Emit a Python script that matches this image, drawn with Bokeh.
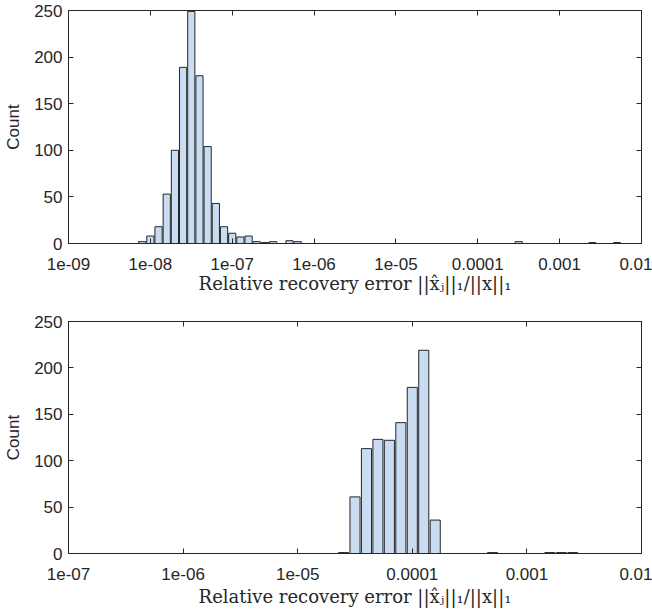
from bokeh.plotting import figure
from bokeh.models import Range1d, FixedTicker, LogAxis, LinearAxis, ColumnDataSource
from bokeh.layouts import column
from bokeh.embed import file_html
from bokeh.resources import INLINE

# ---------------- data ----------------
# top histogram: bins centred on log10 exponents from -8.1 to -2.1, step 0.1
top_start_exp = -8.1
top_counts = [2, 8, 18, 53, 100, 189, 249, 180, 104, 43,
              18, 11, 7, 8, 2, 1, 2, 0, 3, 2,
              0, 0, 0, 0, 0, 0, 0, 0, 0, 0,
              0, 0, 0, 0, 0, 0, 0, 0, 0, 0,
              0, 0, 0, 0, 0, 0, 2, 0, 0, 0,
              0, 0, 0, 0, 0, 1, 0, 0, 1, 0,
              0]
# bottom histogram: bins centred on log10 exponents from -5.0 to -2.1, step 0.1
bot_start_exp = -5.0
bot_counts = [0, 0, 0, 0, 1, 61, 113, 123, 122, 141,
              179, 219, 36, 0, 0, 0, 0, 1, 0, 0,
              0, 0, 1, 1, 1, 0, 0, 0, 0, 0]

top_xticks = [1e-9, 1e-8, 1e-7, 1e-6, 1e-5, 1e-4, 1e-3, 1e-2]
top_xlabels = ["1e-09", "1e-08", "1e-07", "1e-06", "1e-05", "0.0001", "0.001", "0.01"]
bot_xticks = [1e-7, 1e-6, 1e-5, 1e-4, 1e-3, 1e-2]
bot_xlabels = ["1e-07", "1e-06", "1e-05", "0.0001", "0.001", "0.01"]
yticks = [0, 50, 100, 150, 200, 250]

xlabel_text = "Relative recovery error ||x\u0302\u2C7C||\u2081/||x||\u2081"
ylabel_text = "Count"

# ---------------- style ----------------
AX = "#262626"
FILL = "#c9dcf2"
TICK_FONT = "Liberation Sans"
TICK_SIZE = "17px"
LABEL_FONT = "DejaVu Serif"
LABEL_SIZE = "18px"
BIN_STEP = 0.1
HALF_W = 0.044


def style_axis(ax):
    ax.axis_line_color = AX
    ax.major_tick_line_color = AX
    ax.major_tick_in = 5
    ax.major_tick_out = 0
    ax.minor_tick_in = 0
    ax.minor_tick_out = 0


def make_hist(start_exp, counts, xr, xticks, xlabels, height, bottom_border, xlabel_standoff):
    centers = [start_exp + BIN_STEP * i for i in range(len(counts))]
    src = ColumnDataSource(dict(
        left=[10 ** (c - HALF_W) for c in centers],
        right=[10 ** (c + HALF_W) for c in centers],
        top=counts,
        bottom=[0] * len(counts),
    ))
    p = figure(width=652, height=height, x_axis_type="log",
               x_range=Range1d(*xr), y_range=Range1d(0, 250),
               output_backend="svg", toolbar_location=None,
               min_border_left=68, min_border_right=11,
               min_border_top=10, min_border_bottom=bottom_border)
    p.xgrid.visible = False
    p.ygrid.visible = False
    p.outline_line_color = AX
    p.background_fill_color = "white"
    p.border_fill_color = "white"

    p.quad(left="left", right="right", top="top", bottom="bottom", source=src,
           fill_color=FILL, line_color=AX, line_width=1)

    xa = p.xaxis[0]
    xa.ticker = FixedTicker(ticks=xticks, minor_ticks=[])
    xa.major_label_overrides = {t: l for t, l in zip(xticks, xlabels)}
    xa.axis_label = xlabel_text
    ya = p.yaxis[0]
    ya.ticker = FixedTicker(ticks=yticks, minor_ticks=[])
    ya.axis_label = ylabel_text

    for ax in (xa, ya):
        style_axis(ax)
        ax.major_label_text_font = TICK_FONT
        ax.major_label_text_font_size = TICK_SIZE
        ax.major_label_text_color = AX
        ax.axis_label_text_color = AX
        ax.axis_label_text_font_style = "normal"
    xa.major_label_standoff = 14
    xa.axis_label_text_font = LABEL_FONT
    xa.axis_label_text_font_size = LABEL_SIZE
    xa.axis_label_standoff = xlabel_standoff
    ya.axis_label_text_font = TICK_FONT
    ya.axis_label_text_font_size = "17px"
    ya.axis_label_standoff = 8
    ya.major_label_standoff = 6

    top_ax = LogAxis(ticker=FixedTicker(ticks=xticks, minor_ticks=[]))
    right_ax = LinearAxis(ticker=FixedTicker(ticks=yticks, minor_ticks=[]))
    for ax in (top_ax, right_ax):
        style_axis(ax)
        ax.major_label_text_font_size = "1px"
        ax.major_label_text_color = None
        ax.major_label_standoff = 0
    p.add_layout(top_ax, "above")
    p.add_layout(right_ax, "right")
    return p


p1 = make_hist(top_start_exp, top_counts, (1e-9, 1e-2), top_xticks, top_xlabels, 311, 68, 0)
p2 = make_hist(bot_start_exp, bot_counts, (1e-7, 1e-2), bot_xticks, bot_xlabels, 301, 59, 3)

layout = column(p1, p2, spacing=0)
open("out.html", "w").write(file_html(layout, INLINE))
